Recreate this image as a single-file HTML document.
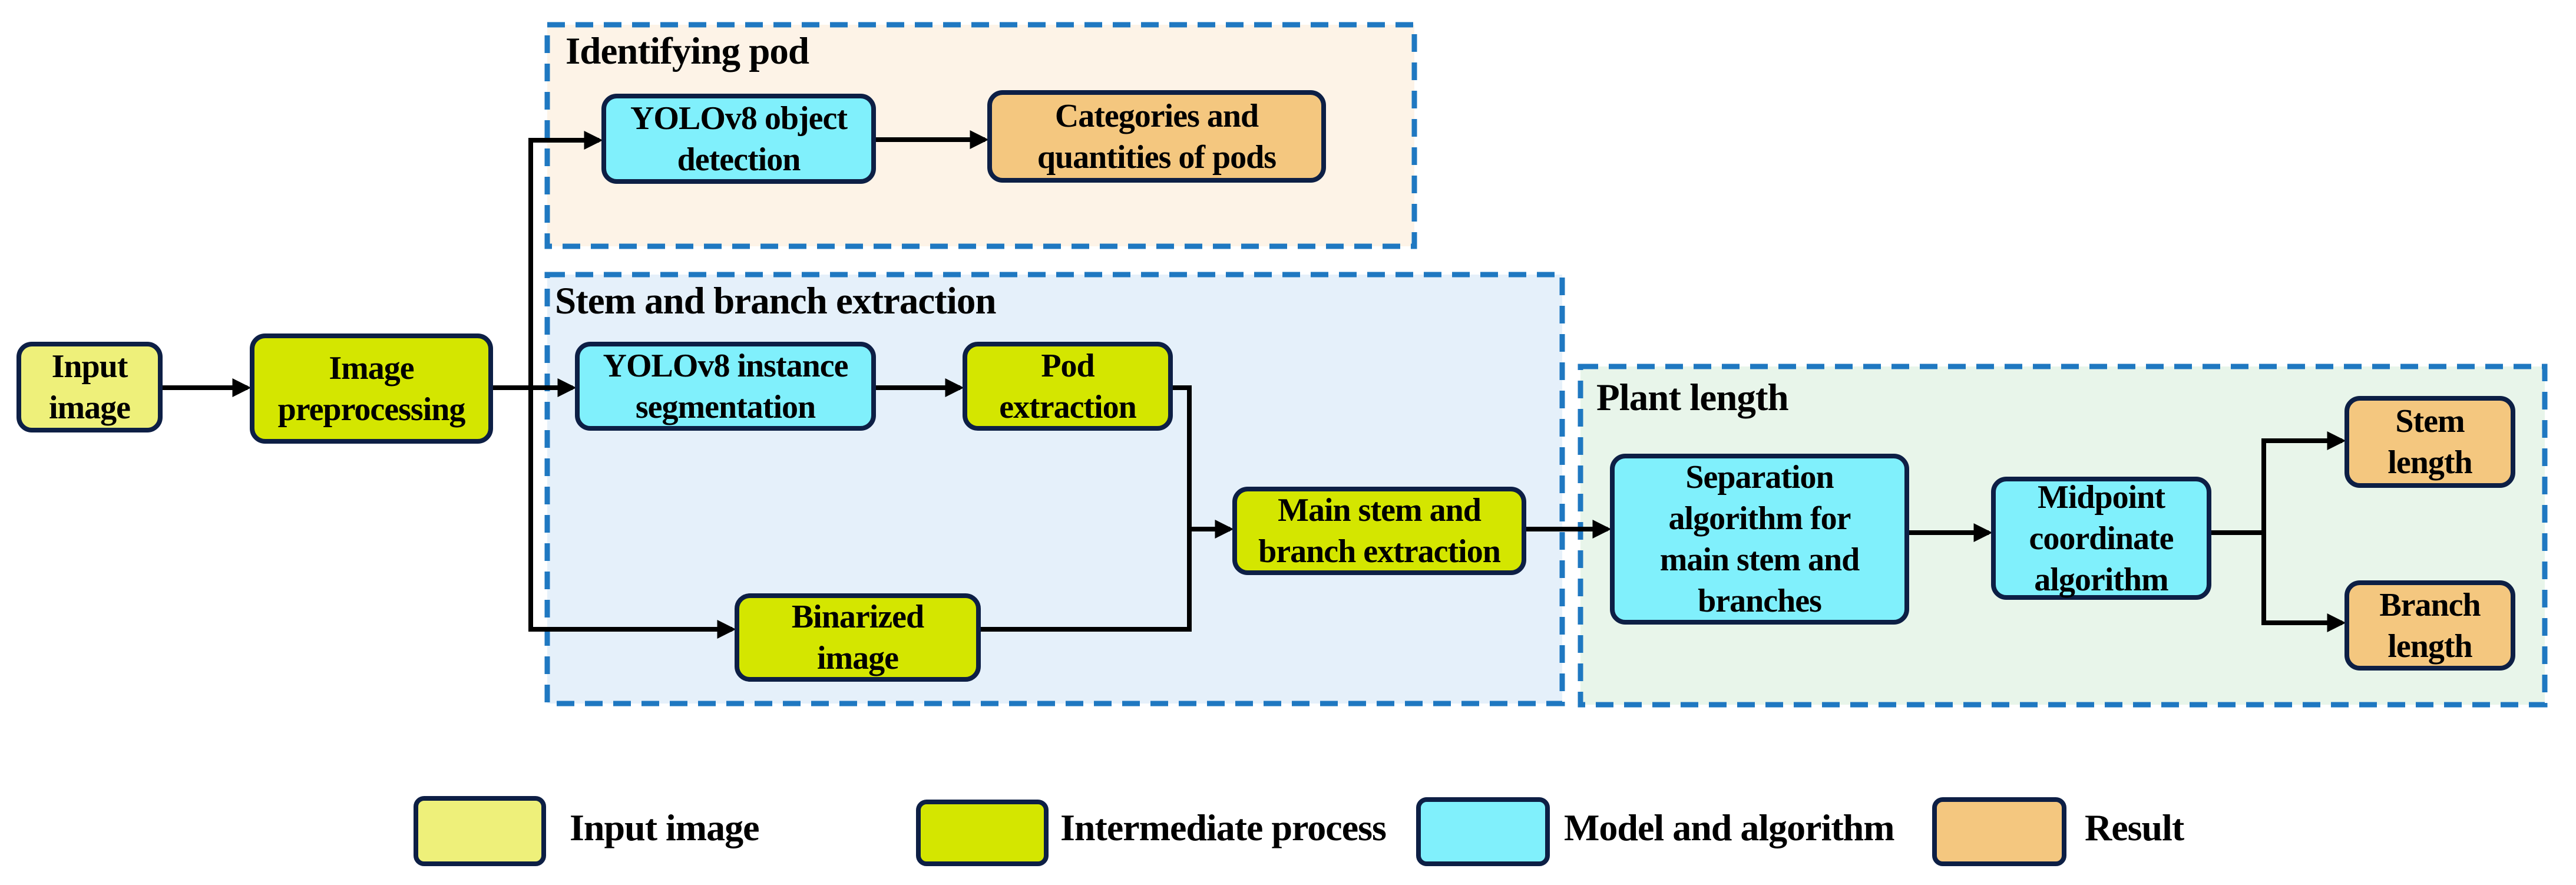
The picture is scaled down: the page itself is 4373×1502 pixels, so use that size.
<!DOCTYPE html>
<html><head><meta charset="utf-8"><style>
body{margin:0;width:4373px;height:1502px;background:#fff;position:relative;overflow:hidden;font-family:"Liberation Serif","DejaVu Serif",serif;font-weight:bold;}
.n{position:absolute;box-sizing:border-box;border:8px solid #0d1f45;border-radius:26px;display:flex;align-items:center;justify-content:center;text-align:center;font-size:56px;line-height:70px;color:#000;letter-spacing:-1px;font-family:"Liberation Serif","DejaVu Serif",serif;white-space:nowrap;}
.t{position:absolute;font-size:65px;letter-spacing:-1px;font-family:"Liberation Serif","DejaVu Serif",serif;white-space:nowrap;}
.lt{position:absolute;font-size:64px;letter-spacing:-1px;top:1368px;font-family:"Liberation Serif","DejaVu Serif",serif;white-space:nowrap;}
.I{background:#eef07a}.M{background:#d4e600}.A{background:#80f0fc}.R{background:#f4c77f}
</style></head><body>
<svg width="4373" height="1502" style="position:absolute;left:0;top:0">
<rect x="929" y="42" width="1472" height="376" fill="#fdf3e7" stroke="#1f78c1" stroke-width="9" stroke-dasharray="30 18"/>
<rect x="929" y="466" width="1723" height="728" fill="#e5f0fa" stroke="#1f78c1" stroke-width="9" stroke-dasharray="30 18"/>
<rect x="2683" y="622" width="1637" height="574" fill="#e8f5ea" stroke="#1f78c1" stroke-width="9" stroke-dasharray="30 18"/>
<defs><marker id="a" markerWidth="4" markerHeight="4" refX="3.2" refY="2" orient="auto"><path d="M0,0 L4,2 L0,4 z" fill="#000"/></marker></defs>
<g stroke="#000" stroke-width="8" fill="none">
<line x1="276" y1="658" x2="420" y2="658" marker-end="url(#a)"/>
<line x1="837" y1="658" x2="972" y2="658" marker-end="url(#a)"/>
<polyline points="1017,238 901,238 901,1068 1243,1068" />
<line x1="901" y1="238" x2="1017" y2="238" marker-end="url(#a)"/>
<line x1="901" y1="1068" x2="1243" y2="1068" marker-end="url(#a)"/>
<line x1="1487" y1="237" x2="1672" y2="237" marker-end="url(#a)"/>
<line x1="1487" y1="658" x2="1630" y2="658" marker-end="url(#a)"/>
<polyline points="1991,658 2019,658 2019,1068 1665,1068"/>
<line x1="2019" y1="898" x2="2088" y2="898" marker-end="url(#a)"/>
<line x1="2591" y1="898" x2="2729" y2="898" marker-end="url(#a)"/>
<line x1="3241" y1="904" x2="3376" y2="904" marker-end="url(#a)"/>
<polyline points="3754,904 3843,904"/>
<polyline points="3976,748 3843,748 3843,1057 3976,1057"/>
<line x1="3843" y1="748" x2="3976" y2="748" marker-end="url(#a)"/>
<line x1="3843" y1="1057" x2="3976" y2="1057" marker-end="url(#a)"/>
</g></svg>
<div class="t" style="left:960px;top:50px">Identifying pod</div>
<div class="t" style="left:942px;top:474px">Stem and branch extraction</div>
<div class="t" style="left:2710px;top:638px">Plant length</div>
<div class="n I" style="left:28px;top:580px;width:248px;height:154px">Input<br>image</div>
<div class="n M" style="left:424px;top:566px;width:413px;height:187px">Image<br>preprocessing</div>
<div class="n A" style="left:1021px;top:159px;width:466px;height:153px">YOLOv8 object<br>detection</div>
<div class="n R" style="left:1676px;top:153px;width:575px;height:157px">Categories and<br>quantities of pods</div>
<div class="n A" style="left:976px;top:580px;width:511px;height:151px">YOLOv8 instance<br>segmentation</div>
<div class="n M" style="left:1634px;top:580px;width:357px;height:151px">Pod<br>extraction</div>
<div class="n M" style="left:1247px;top:1007px;width:418px;height:150px">Binarized<br>image</div>
<div class="n M" style="left:2092px;top:826px;width:499px;height:150px">Main stem and<br>branch extraction</div>
<div class="n A" style="left:2733px;top:770px;width:508px;height:290px">Separation<br>algorithm for<br>main stem and<br>branches</div>
<div class="n A" style="left:3380px;top:809px;width:374px;height:209px">Midpoint<br>coordinate<br>algorithm</div>
<div class="n R" style="left:3980px;top:672px;width:290px;height:156px">Stem<br>length</div>
<div class="n R" style="left:3980px;top:985px;width:290px;height:153px">Branch<br>length</div>
<div class="n I" style="left:702px;top:1351px;width:225px;height:119px;border-radius:18px"></div>
<div class="n M" style="left:1555px;top:1357px;width:225px;height:113px;border-radius:18px"></div>
<div class="n A" style="left:2404px;top:1353px;width:227px;height:117px;border-radius:18px"></div>
<div class="n R" style="left:3280px;top:1353px;width:228px;height:117px;border-radius:18px"></div>
<div class="lt" style="left:967px">Input image</div>
<div class="lt" style="left:1800px">Intermediate process</div>
<div class="lt" style="left:2655px">Model and algorithm</div>
<div class="lt" style="left:3539px">Result</div>
</body></html>
